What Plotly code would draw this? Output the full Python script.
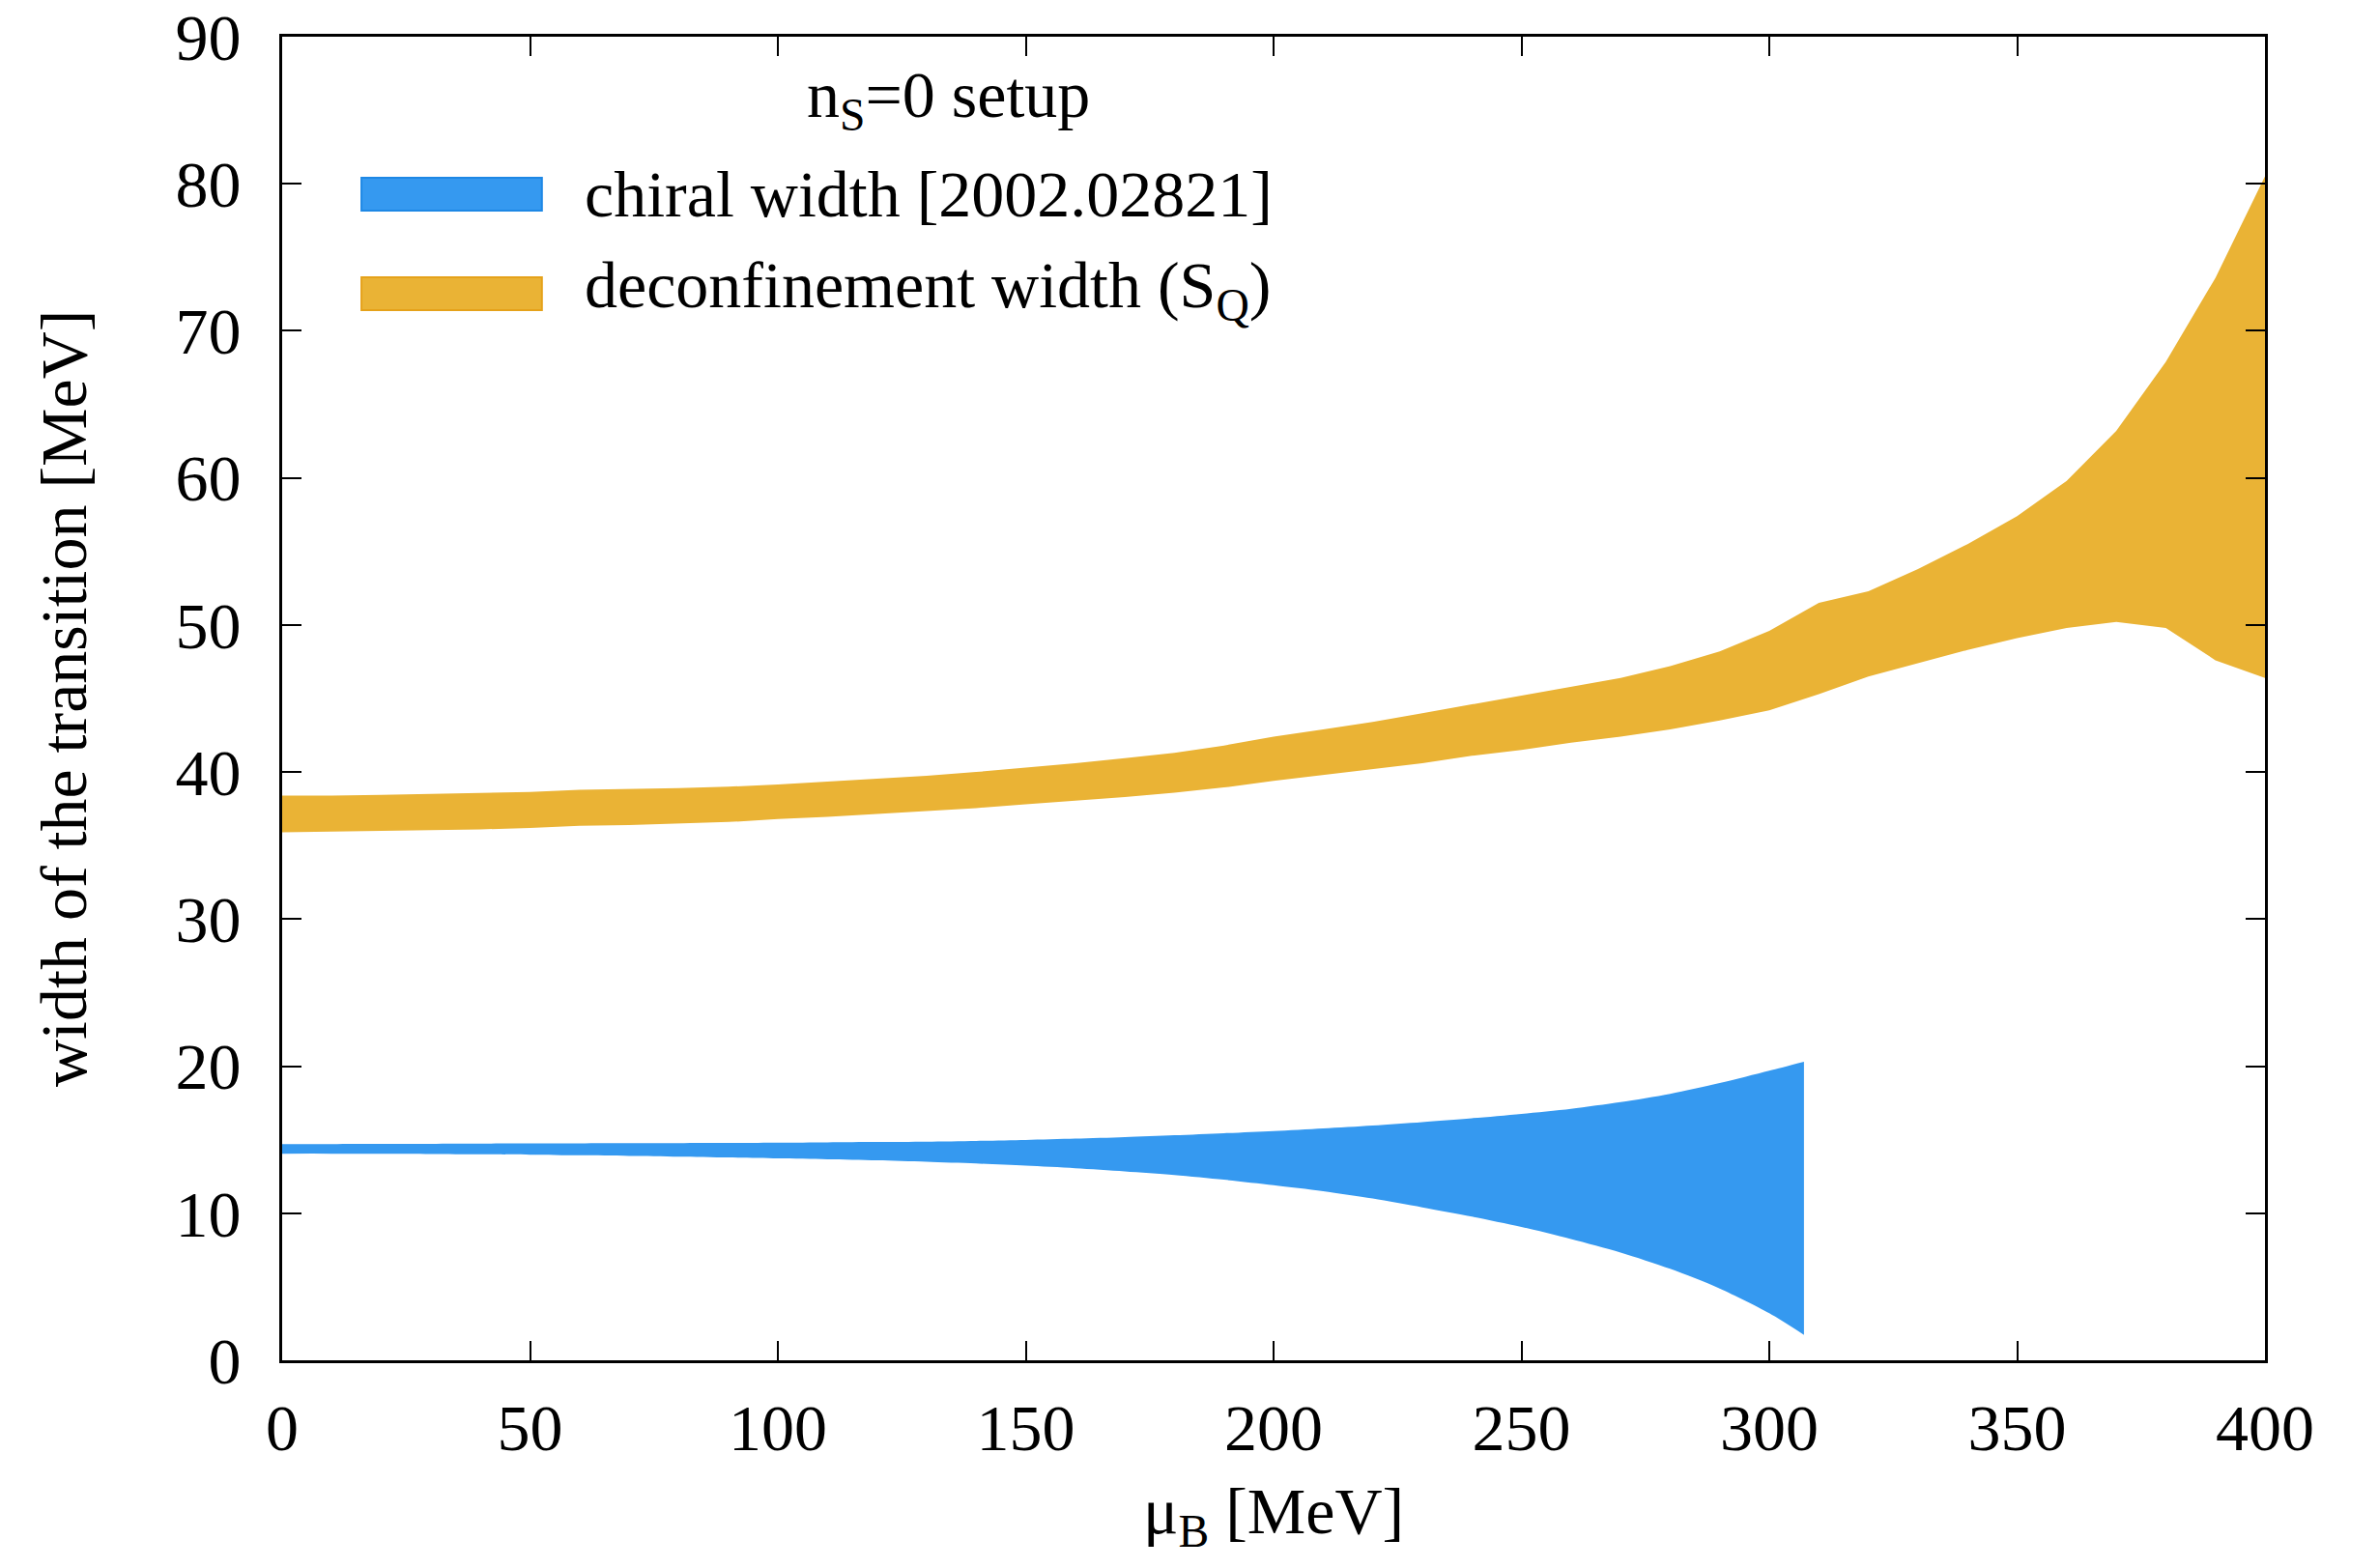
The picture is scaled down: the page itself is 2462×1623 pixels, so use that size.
import plotly.graph_objects as go

# Baryon chemical potential grid for the deconfinement band [MeV]
mu_deconf = [0, 10, 20, 30, 40, 50, 60, 70, 80, 90, 100, 110, 120, 130, 140,
             150, 160, 170, 180, 190, 200, 210, 220, 230, 240, 250, 260, 270,
             280, 290, 300, 310, 320, 330, 340, 350, 360, 370, 380, 390, 400]
deconf_upper = [38.4, 38.4, 38.45, 38.5, 38.55, 38.65, 38.8, 38.85, 38.9, 39.0,
                39.15, 39.35, 39.55, 39.75, 40.0, 40.3, 40.6, 40.95, 41.3, 41.8,
                42.4, 42.9, 43.4, 44.0, 44.6, 45.2, 45.8, 46.4, 47.2, 48.2,
                49.6, 51.5, 52.3, 53.8, 55.5, 57.4, 59.8, 63.2, 67.9, 73.6, 80.5]
deconf_lower = [35.9, 35.95, 36.0, 36.05, 36.1, 36.2, 36.35, 36.4, 36.5, 36.6,
                36.8, 36.95, 37.15, 37.35, 37.55, 37.8, 38.05, 38.3, 38.6, 38.95,
                39.4, 39.8, 40.2, 40.6, 41.1, 41.5, 42.0, 42.4, 42.9, 43.5,
                44.2, 45.3, 46.5, 47.4, 48.3, 49.1, 49.8, 50.2, 49.8, 47.6, 46.4]

# Chiral transition width band [2002.02821]
mu_chiral = [0, 10, 20, 30, 40, 50, 60, 70, 80, 90, 100, 110, 120, 130, 140,
             150, 160, 170, 180, 190, 200, 210, 220, 230, 240, 250, 260, 270,
             280, 290, 300, 307]
chiral_upper = [14.70, 14.70, 14.71, 14.72, 14.73, 14.74, 14.75, 14.76, 14.77, 14.78,
                14.80, 14.82, 14.84, 14.87, 14.92, 14.98, 15.07, 15.18, 15.30, 15.44,
                15.59, 15.77, 15.97, 16.20, 16.46, 16.76, 17.10, 17.55, 18.12, 18.85,
                19.69, 20.30]
chiral_lower = [14.05, 14.05, 14.04, 14.03, 14.01, 13.98, 13.94, 13.90, 13.85, 13.79,
                13.73, 13.67, 13.60, 13.50, 13.38, 13.23, 13.06, 12.85, 12.60, 12.28,
                11.91, 11.50, 11.00, 10.40, 9.77, 9.07, 8.25, 7.33, 6.22, 4.88,
                3.20, 1.73]

x_ticks = [0, 50, 100, 150, 200, 250, 300, 350, 400]
y_ticks = [0, 10, 20, 30, 40, 50, 60, 70, 80, 90]

BLUE = "#3599F0"
BLUE_EDGE = "#1E88E5"
ORANGE = "#EAB335"
ORANGE_EDGE = "#E5A21A"
FONT = "Liberation Serif"
FS = 68

fig = go.Figure()

# chiral band: lower edge, then upper edge filled down to it
fig.add_trace(go.Scatter(x=mu_chiral, y=chiral_lower, mode="lines",
                         line=dict(width=0, color=BLUE, shape="spline", smoothing=0.8),
                         showlegend=False, hoverinfo="skip"))
fig.add_trace(go.Scatter(x=mu_chiral, y=chiral_upper, mode="lines",
                         line=dict(width=0, color=BLUE, shape="spline", smoothing=0.8),
                         fill="tonexty", fillcolor=BLUE,
                         showlegend=False, hoverinfo="skip"))

# deconfinement band
fig.add_trace(go.Scatter(x=mu_deconf, y=deconf_lower, mode="lines",
                         line=dict(width=0, color=ORANGE),
                         showlegend=False, hoverinfo="skip"))
fig.add_trace(go.Scatter(x=mu_deconf, y=deconf_upper, mode="lines",
                         line=dict(width=0, color=ORANGE),
                         fill="tonexty", fillcolor=ORANGE,
                         showlegend=False, hoverinfo="skip"))

axis_common = dict(
    showline=True, linecolor="black", linewidth=3, mirror="allticks",
    ticks="inside", ticklen=20, tickwidth=2, tickcolor="black",
    showgrid=False, zeroline=False, automargin=False,
    tickfont=dict(family=FONT, size=FS, color="black"),
)

fig.update_xaxes(range=[0, 400], tickvals=x_ticks, ticklabelstandoff=8, **axis_common)
fig.update_yaxes(range=[0, 90], tickvals=y_ticks, ticklabelstandoff=26, **axis_common)

# custom key in the upper-left corner
shapes = [
    dict(type="rect", xref="paper", yref="paper", x0=0.040, x1=0.131, y0=0.8686, y1=0.8934,
         fillcolor=BLUE, line=dict(color=BLUE_EDGE, width=2)),
    dict(type="rect", xref="paper", yref="paper", x0=0.040, x1=0.131, y0=0.7934, y1=0.8182,
         fillcolor=ORANGE, line=dict(color=ORANGE_EDGE, width=2)),
]

txt = dict(family=FONT, size=FS, color="black")
annotations = [
    dict(text="n<sub>S</sub>=0 setup", xref="paper", yref="paper", x=0.3358, y=0.953,
         xanchor="center", yanchor="middle", showarrow=False, font=txt),
    dict(text="chiral width [2002.02821]", xref="paper", yref="paper", x=0.1516, y=0.881,
         xanchor="left", yanchor="middle", showarrow=False, font=txt),
    dict(text="deconfinement width (S<sub>Q</sub>)", xref="paper", yref="paper", x=0.1516, y=0.809,
         xanchor="left", yanchor="middle", showarrow=False, font=txt),
    # axis titles
    dict(text="μ<sub>B</sub> [MeV]", xref="paper", yref="paper", x=0.5, y=0,
         xanchor="center", yanchor="middle", yshift=-160, showarrow=False, font=txt),
    dict(text="width of the transition [MeV]", xref="paper", yref="paper", x=0, y=0.5,
         xanchor="center", yanchor="middle", xshift=-226, textangle=-90,
         showarrow=False, font=txt),
]

fig.update_layout(
    width=2462, height=1623,
    margin=dict(l=292, r=118, t=38, b=215, pad=0),
    paper_bgcolor="white", plot_bgcolor="white",
    shapes=shapes, annotations=annotations,
    showlegend=False,
)

fig.write_html("out.html")
